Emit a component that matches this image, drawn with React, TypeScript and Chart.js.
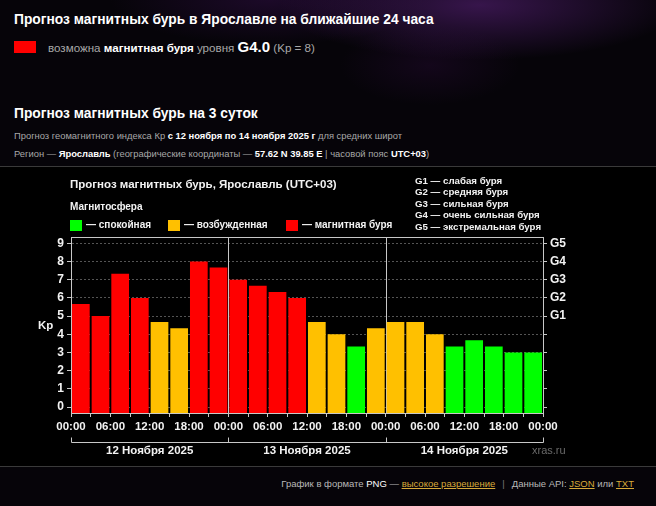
import React, { useEffect, useRef } from 'react';
import { Chart, registerables } from 'chart.js';

Chart.register(...registerables);

// ---- data ----
const kpValues = [
  5.67, 5.0, 7.33, 6.0, 4.67, 4.33, 8.0, 7.67,
  7.0, 6.67, 6.33, 6.0, 4.67, 4.0, 3.33, 4.33,
  4.67, 4.67, 4.0, 3.33, 3.67, 3.33, 3.0, 3.0,
];
const xTickLabels = ['00:00', '06:00', '12:00', '18:00', '00:00', '06:00', '12:00', '18:00', '00:00', '06:00', '12:00', '18:00', '00:00'];
const dayLabels = ['12 Ноября 2025', '13 Ноября 2025', '14 Ноября 2025'];
const yTicks = [0, 1, 2, 3, 4, 5, 6, 7, 8, 9];
const gTickLabels = ['', '', '', '', '', 'G1', 'G2', 'G3', 'G4', 'G5'];
const gLegend = ['G1 — слабая буря', 'G2 — средняя буря', 'G3 — сильная буря', 'G4 — очень сильная буря', 'G5 — экстремальная буря'];
const legendLabels = ['— спокойная', '— возбужденная', '— магнитная буря'];
const legendColors = ['#00ff00', '#ffc000', '#ff0000'];
const chartTitle = 'Прогноз магнитных бурь, Ярославль (UTC+03)';
const legendTitle = 'Магнитосфера';

const FONT = '"Liberation Sans", Arial, sans-serif';
const barColor = (v: number) => (v >= 5 ? legendColors[2] : v >= 4 ? legendColors[1] : legendColors[0]);

const CANVAS_W = 656;
const CANVAS_H = 298;
const AREA_LEFT = 71;
const AREA_RIGHT = 543;
const AREA_TOP = 70;
const AREA_BOTTOM = 246;

const overlay = {
  id: 'overlay',
  beforeDatasetsDraw(chart: any) {
    const { ctx, chartArea: a, scales } = chart;
    const x = scales.x;
    const perDay = kpValues.length / dayLabels.length;
    ctx.save();
    ctx.strokeStyle = '#c8c8c8';
    ctx.lineWidth = 1;
    for (let d = 1; d < dayLabels.length; d++) {
      const px = Math.round(x.getPixelForValue(d * perDay)) + 0.5;
      ctx.beginPath();
      ctx.moveTo(px, a.top);
      ctx.lineTo(px, a.bottom);
      ctx.stroke();
    }
    ctx.restore();
  },
  afterDraw(chart: any) {
    const { ctx, chartArea: a, scales } = chart;
    const x = scales.x;
    const perDay = kpValues.length / dayLabels.length;
    ctx.save();
    // top frame
    ctx.strokeStyle = '#c8c8c8';
    ctx.lineWidth = 1;
    ctx.beginPath();
    ctx.moveTo(a.left, Math.round(a.top) + 0.5);
    ctx.lineTo(a.right, Math.round(a.top) + 0.5);
    ctx.stroke();

    // day bracket
    const by = 275.5;
    ctx.beginPath();
    ctx.moveTo(Math.round(x.getPixelForValue(0)) + 0.5, by);
    ctx.lineTo(Math.round(x.getPixelForValue(kpValues.length)) + 0.5, by);
    for (let d = 0; d <= dayLabels.length; d++) {
      const px = Math.round(x.getPixelForValue(d * perDay)) + 0.5;
      ctx.moveTo(px, by);
      ctx.lineTo(px, by - 5);
    }
    ctx.stroke();

    ctx.fillStyle = '#f2f2f2';
    ctx.font = `bold 11.5px ${FONT}`;
    ctx.textAlign = 'center';
    ctx.textBaseline = 'middle';
    dayLabels.forEach((lab, d) => {
      ctx.fillText(lab, x.getPixelForValue(d * perDay + perDay / 2), 284);
    });

    // Kp axis title
    ctx.textAlign = 'left';
    ctx.font = `bold 11.5px ${FONT}`;
    ctx.fillText('Kp', 38, 159);

    // chart title
    ctx.font = `bold 11.5px ${FONT}`;
    ctx.fillText(chartTitle, 70, 18);
    ctx.font = `bold 10px ${FONT}`;
    ctx.fillText(legendTitle, 70, 40);

    // legend
    const lx = [70, 168, 286];
    legendLabels.forEach((lab, i) => {
      ctx.fillStyle = legendColors[i];
      ctx.fillRect(lx[i], 53, 12, 11);
      ctx.fillStyle = '#f2f2f2';
      ctx.font = `bold 10px ${FONT}`;
      ctx.fillText(lab, lx[i] + 16, 58.5);
    });

    // G legend
    ctx.font = `bold 9.7px ${FONT}`;
    gLegend.forEach((lab, i) => {
      ctx.fillText(lab, 415, 14 + i * 11.6);
    });

    // watermark
    ctx.fillStyle = '#6a6a6a';
    ctx.font = `11px ${FONT}`;
    ctx.fillText('xras.ru', 532, 284);
    ctx.restore();
  },
};

function KpChart() {
  const ref = useRef<HTMLCanvasElement | null>(null);
  useEffect(() => {
    if (!ref.current) return;
    const chart = new Chart(ref.current, {
      type: 'bar',
      data: {
        datasets: [
          {
            data: kpValues.map((v, i) => ({ x: i + 0.5, y: v })),
            backgroundColor: kpValues.map(barColor),
            borderWidth: 0,
            base: -0.33,
            categoryPercentage: 0.9,
            barPercentage: 1,
            xAxisID: 'x',
            yAxisID: 'y',
          } as any,
        ],
      },
      options: {
        responsive: false,
        animation: false,
        events: [],
        layout: { padding: { top: AREA_TOP, left: 0, right: 0, bottom: 0 } },
        plugins: { legend: { display: false }, tooltip: { enabled: false }, title: { display: false } },
        scales: {
          x: {
            type: 'linear',
            position: 'bottom',
            min: 0,
            max: kpValues.length,
            offset: false,
            afterBuildTicks: (s: any) => {
              s.ticks = kpValues.map((_, i) => ({ value: i })).concat([{ value: kpValues.length }]);
            },
            afterFit: (s: any) => {
              s.height = CANVAS_H - AREA_BOTTOM;
            },
            grid: { display: true, drawOnChartArea: false, offset: false, tickLength: 4, tickColor: '#c8c8c8', tickWidth: 1 },
            border: { display: true, color: '#c8c8c8', width: 1 },
            ticks: {
              autoSkip: false,
              maxRotation: 0,
              minRotation: 0,
              padding: 3,
              color: '#f2f2f2',
              font: { family: FONT, size: 11.5, weight: 'bold' },
              callback: (v: any) => (Number(v) % 2 === 0 ? xTickLabels[Number(v) / 2] : ''),
            },
          },
          y: {
            type: 'linear',
            position: 'left',
            min: -0.33,
            max: 9.35,
            afterBuildTicks: (s: any) => {
              s.ticks = yTicks.map((v) => ({ value: v }));
            },
            afterFit: (s: any) => {
              s.width = AREA_LEFT;
            },
            grid: {
              display: true,
              drawOnChartArea: true,
              color: 'rgba(255,255,255,0.33)',
              lineWidth: 1,
              tickLength: 4,
              tickColor: '#c8c8c8',
              tickBorderDash: [],
            },
            border: { display: true, color: '#c8c8c8', width: 1, dash: [2, 2] },
            ticks: {
              padding: 3,
              color: '#f2f2f2',
              font: { family: FONT, size: 12, weight: 'bold' },
              callback: (v: any) => String(v),
            },
          },
          y2: {
            type: 'linear',
            position: 'right',
            min: -0.33,
            max: 9.35,
            afterBuildTicks: (s: any) => {
              s.ticks = yTicks.map((v) => ({ value: v }));
            },
            afterFit: (s: any) => {
              s.width = CANVAS_W - AREA_RIGHT;
            },
            grid: { display: true, drawOnChartArea: false, tickLength: 4, tickColor: '#c8c8c8' },
            border: { display: true, color: '#c8c8c8', width: 1 },
            ticks: {
              padding: 3,
              color: '#f2f2f2',
              font: { family: FONT, size: 12, weight: 'bold' },
              callback: (_v: any, i: number) => gTickLabels[i],
            },
          },
        },
      } as any,
      plugins: [overlay],
    });
    return () => chart.destroy();
  }, []);
  return <canvas ref={ref} width={CANVAS_W} height={CANVAS_H} style={{ position: 'absolute', left: 0, top: 167, width: CANVAS_W, height: CANVAS_H }} />;
}

const abs = (left: number, top: number, extra: React.CSSProperties = {}): React.CSSProperties => ({
  position: 'absolute',
  left,
  top,
  whiteSpace: 'nowrap',
  fontFamily: FONT,
  ...extra,
});

export default function App() {
  const gray = '#a8a8a8';
  const link: React.CSSProperties = { color: '#d8aa3a', textDecoration: 'underline' };
  return (
    <div
      style={{
        position: 'fixed',
        left: 0,
        top: 0,
        width: 656,
        height: 506,
        overflow: 'hidden',
        background:
          'radial-gradient(ellipse 200px 55px at 480px 5px, rgba(95,35,130,0.55), rgba(0,0,0,0)), radial-gradient(ellipse 160px 45px at 270px 0px, rgba(70,20,100,0.35), rgba(0,0,0,0)), radial-gradient(ellipse 90px 40px at 430px 65px, rgba(60,15,80,0.25), rgba(0,0,0,0)), #060409',
        fontFamily: FONT,
      }}
    >
      <div style={abs(14, 12, { fontSize: 13.8, fontWeight: 'bold', color: '#fff', lineHeight: '16px' })}>
        Прогноз магнитных бурь в Ярославле на ближайшие 24 часа
      </div>
      <div style={{ position: 'absolute', left: 14, top: 41, width: 22, height: 12, background: '#ff0000' }} />
      <div style={abs(48, 38, { fontSize: 11.6, color: gray, lineHeight: '18px' })}>
        возможна <b style={{ color: '#fff' }}>магнитная буря</b> уровня{' '}
        <b style={{ color: '#fff', fontSize: 15 }}>G4.0</b> (Kp = 8)
      </div>

      <div style={abs(14, 106, { fontSize: 13.8, fontWeight: 'bold', color: '#fff', lineHeight: '16px' })}>
        Прогноз магнитных бурь на 3 суток
      </div>
      <div style={abs(14, 129, { fontSize: 9.4, color: gray, lineHeight: '13px' })}>
        Прогноз геомагнитного индекса Кр <b style={{ color: '#fff' }}>с 12 ноября по 14 ноября 2025 г</b> для средних широт
      </div>
      <div style={abs(14, 147, { fontSize: 9.4, color: gray, lineHeight: '13px' })}>
        Регион — <b style={{ color: '#fff' }}>Ярославль</b> (географические координаты — <b style={{ color: '#fff' }}>57.62 N 39.85 E</b> | часовой пояс{' '}
        <b style={{ color: '#fff' }}>UTC+03</b>)
      </div>

      <div
        style={{
          position: 'absolute',
          left: 0,
          top: 166,
          width: 656,
          height: 299,
          background: '#000',
          borderTop: '1px solid #3a3a3a',
          borderBottom: '1px solid #3a3a3a',
        }}
      />
      <KpChart />

      <div style={{ position: 'absolute', right: 22, top: 477, whiteSpace: 'nowrap', fontSize: 9.5, color: '#b8b8b8', lineHeight: '14px', fontFamily: FONT }}>
        График в формате <span style={{ color: '#fff' }}>PNG</span> — <span style={link}>высокое разрешение</span>
        <span style={{ color: '#777', margin: '0 7px' }}>|</span>
        Данные API: <span style={link}>JSON</span> или <span style={link}>TXT</span>
      </div>
    </div>
  );
}
